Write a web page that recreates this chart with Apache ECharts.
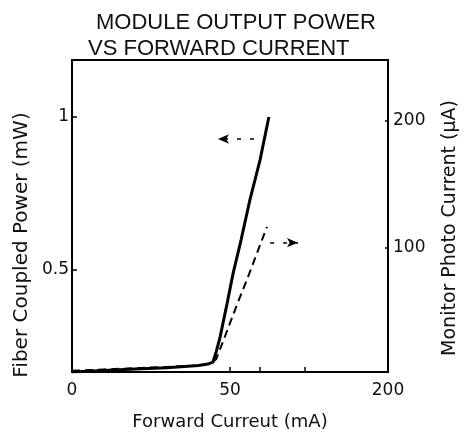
<!DOCTYPE html>
<html>
<head>
<meta charset="utf-8">
<script src="https://cdn.jsdelivr.net/npm/echarts@6/dist/echarts.min.js"></script>
<style>
  html,body{margin:0;padding:0;background:#fff;}
  #chart{width:467px;height:433px;}
</style>
</head>
<body>
<div id="chart"></div>
<script>
// forward current (mA) vs fiber coupled power (mW)
const powerCurve = [
  [0, 0.167], [10, 0.172], [20, 0.177], [30, 0.181], [40, 0.188], [43, 0.193],
  [44.6, 0.199], [45.6, 0.232], [46.8, 0.278], [49.1, 0.392], [51, 0.49],
  [53.5, 0.598], [56.3, 0.729], [59.5, 0.859], [62.3, 1.0]
]
// forward current (mA) vs monitor photo current (uA)
const monitorCurve = [
  [0, 3], [10, 4], [20, 5], [30, 6], [40, 7], [44, 9], [45.6, 12],
  [48.4, 30], [52.2, 55], [55.7, 77], [61.7, 116.5]
]
const xTickValues = [0, 50, 100]
const xTickLabels = ['0', '50', '200']
const xMinorTicks = [50, 59.5, 73.7]
const leftTicks = [0.5, 1]
const rightTicks = [100, 200]
// arrows pointing at the axis each curve belongs to
const powerArrow = [[57.6, 0.928], [46.2, 0.928]]
const monitorArrow = [[62.7, 104], [71.5, 104]]

const font = 'DejaVu Sans'
let chart = echarts.init(document.getElementById('chart'))

let option = {
  animation:false,
  title:[
    {text:'MODULE OUTPUT POWER', left:91, top:7,
      textStyle:{fontFamily:'Liberation Sans', fontSize:22, fontWeight:'normal', color:'#111'}},
    {text:'VS FORWARD CURRENT', left:83, top:33,
      textStyle:{fontFamily:'Liberation Sans', fontSize:22, fontWeight:'normal', color:'#111'}}
  ],
  grid:{
    left:72, right:79, top:60, bottom:61,
    show:true, borderColor:'#000', borderWidth:2
  },
  xAxis:{
    type:'value', min:0, max:100,
    axisLine:{lineStyle:{color:'#000', width:2}},
    splitLine:{show:false},
    axisTick:{inside:true, length:5, customValues:xMinorTicks, lineStyle:{color:'#000', width:1.5}},
    axisLabel:{
      customValues:xTickValues, margin:10,
      fontFamily:font, fontSize:17, color:'#111',
      formatter:(v)=>xTickLabels[xTickValues.indexOf(v)]
    }
  },
  yAxis:[{
    type:'value', min:0.167, max:1.186, position:'left',
    axisLine:{show:true, lineStyle:{color:'#000', width:2}},
    splitLine:{show:false},
    axisTick:{inside:true, length:5, customValues:leftTicks, lineStyle:{color:'#000', width:1.5}},
    axisLabel:{customValues:leftTicks, margin:3, fontFamily:font, fontSize:17, color:'#111'}
  },{
    type:'value', min:2, max:248, position:'right',
    axisLine:{show:true, lineStyle:{color:'#000', width:2}},
    splitLine:{show:false},
    axisTick:{inside:true, length:3, customValues:rightTicks, lineStyle:{color:'#000', width:1.5}},
    axisLabel:{customValues:rightTicks, margin:5, fontFamily:font, fontSize:17, color:'#111'}
  }],
  graphic:[
    {type:'text', x:22, y:245, rotation:Math.PI/2,
      style:{text:'Fiber Coupled Power (mW)', fontFamily:font, fontSize:20, fill:'#111',
        textAlign:'center', textVerticalAlign:'middle'}},
    {type:'text', x:450, y:228, rotation:Math.PI/2,
      style:{text:'Monitor Photo Current (\u03bcA)', fontFamily:font, fontSize:19, fill:'#111',
        textAlign:'center', textVerticalAlign:'middle'}},
    {type:'text', x:230, y:422,
      style:{text:'Forward Curreut (mA)', fontFamily:font, fontSize:18, fill:'#111',
        textAlign:'center', textVerticalAlign:'middle'}}
  ],
  series:[{
    type:'line', yAxisIndex:0, data:powerCurve,
    showSymbol:false, smooth:false,
    lineStyle:{color:'#000', width:3},
    markLine:{
      silent:true, symbol:['none','arrow'], symbolSize:[7,11],
      label:{show:false},
      lineStyle:{color:'#000', width:1.5, type:[4,9]},
      data:[[{coord:powerArrow[0]}, {coord:powerArrow[1]}]]
    }
  },{
    type:'line', yAxisIndex:1, data:monitorCurve,
    showSymbol:false, smooth:false,
    lineStyle:{color:'#000', width:2, type:[8,5]},
    markLine:{
      silent:true, symbol:['none','arrow'], symbolSize:[7,11],
      label:{show:false},
      lineStyle:{color:'#000', width:1.5, type:[4,9]},
      data:[[{coord:monitorArrow[0]}, {coord:monitorArrow[1]}]]
    }
  }]
}

chart.setOption(option)
</script>
</body>
</html>
